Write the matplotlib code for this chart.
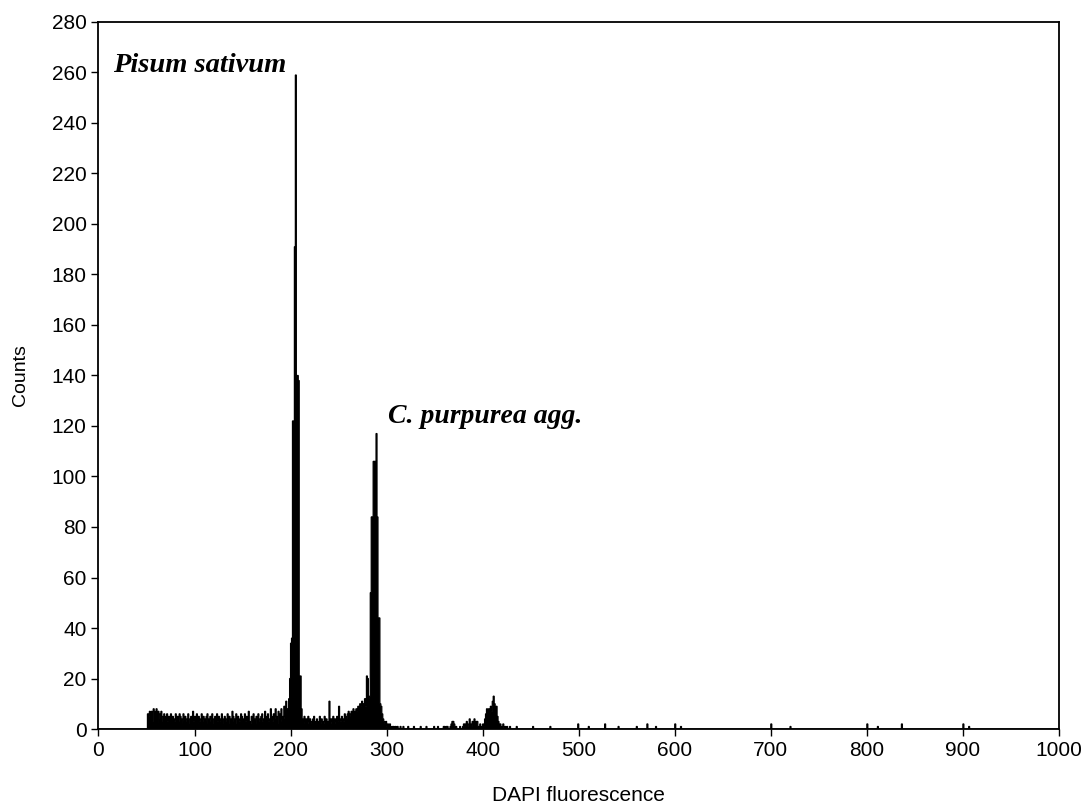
import numpy as np
import matplotlib
matplotlib.use("Agg")
import matplotlib.pyplot as plt

plt.rcParams['font.family'] = ['Liberation Sans', 'DejaVu Sans']

# channel counts, one value per channel starting at channel 51
first_channel = 51
counts_main = [
    6, 5, 7, 6, 7, 3, 8, 7, 5, 8,
    2, 7, 6, 4, 7, 5, 3, 6, 4, 5,
    6, 3, 5, 4, 6, 2, 5, 4, 3, 6,
    4, 5, 3, 6, 5, 2, 4, 6, 3, 5,
    4, 3, 6, 4, 2, 5, 4, 7, 3, 5,
    4, 6, 2, 5, 3, 4, 6, 3, 5, 4,
    3, 5, 6, 2, 4, 5, 3, 6, 4, 2,
    5, 4, 6, 3, 5, 4, 3, 6, 2, 4,
    5, 3, 4, 6, 2, 5, 4, 3, 7, 5,
    3, 4, 6, 2, 5, 4, 3, 6, 5, 2,
    4, 6, 3, 5, 4, 7, 3, 2, 5, 4,
    6, 3, 4, 5, 2, 6, 4, 3, 5, 6,
    3, 4, 7, 2, 5, 6, 3, 4, 8, 5,
    3, 6, 4, 8, 5, 2, 7, 6, 4, 8,
    3, 5, 9, 4, 11, 6, 8, 12, 20, 34,      # 191-200
    36, 122, 122, 191, 259, 140, 140, 138, 21, 21,  # 201-210
    8, 4, 3, 5, 2, 4, 3, 5, 2, 4,
    3, 2, 4, 5, 2, 3, 4, 2, 3, 5,
    2, 4, 3, 2, 5, 3, 4, 2, 3, 11,
    3, 4, 2, 5, 3, 4, 2, 5, 3, 9,
    4, 3, 5, 4, 3, 6, 5, 4, 6, 7,
    5, 6, 7, 6, 8, 6, 7, 8, 7, 9,
    8, 10, 9, 11, 8, 10, 12, 9, 21, 20,   # 271-280
    12, 13, 54, 84, 84, 106, 106, 106, 117, 84,  # 281-290
    44, 44, 10, 9, 6, 4, 3, 2, 3, 1,
    2, 1, 2, 1, 0, 1, 1, 0, 1, 0,
    1, 0, 0, 1, 0, 0, 1, 0, 0, 0,
    0, 1, 0, 0, 0, 0, 0, 1, 0, 0,
    0, 0, 0, 0, 1, 0, 0, 0, 0, 0,
    1, 0, 0, 0, 0, 0, 0, 0, 1, 0,
    0, 0, 1, 0, 0, 0, 0, 0, 1, 1,
    0, 1, 1, 0, 0, 1, 2, 3, 3, 2,
    1, 1, 0, 0, 0, 1, 0, 0, 1, 2,
    2, 1, 3, 1, 2, 4, 2, 1, 3, 2,
    4, 1, 3, 3, 1, 1, 2, 1, 1, 2,
    1, 4, 6, 8, 7, 8, 6, 9, 7, 11,     # 401-410
    13, 10, 8, 9, 5, 3, 1, 2, 1, 1,
    2, 0, 1, 0, 1, 0, 0, 1, 0, 0,
]

# isolated single events further up the scale
sparse_channels = [435, 452, 470, 499, 510, 527, 541, 560, 571, 580,
                   600, 606, 700, 720, 800, 811, 836, 900, 906]
sparse_counts = [1, 1, 1, 2, 1, 2, 1, 1, 2, 1,
                 2, 1, 2, 1, 2, 1, 2, 2, 1]

counts = np.zeros(1000)
counts[first_channel:first_channel + len(counts_main)] = counts_main
counts[sparse_channels] = sparse_counts
edges = np.arange(1001)

fig = plt.figure(figsize=(10.88, 8.05), dpi=100)
ax = fig.add_axes([0.0905, 0.0944, 0.8828, 0.8783])

ax.stairs(counts, edges, fill=True, facecolor='black', edgecolor='black',
          linewidth=0.9)

ax.set_xlim(0, 1000)
ax.set_ylim(0, 280)
ax.set_xticks(np.arange(0, 1001, 100))
ax.set_yticks(np.arange(0, 281, 20))
ax.tick_params(direction='out', length=5, width=1, labelsize=15)
for side in ax.spines.values():
    side.set_linewidth(1.3)

ax.set_xlabel('DAPI fluorescence', fontsize=15, labelpad=19)
ax.set_ylabel('Counts', fontsize=14, labelpad=16)

serif = ['Liberation Serif', 'DejaVu Serif']
ax.text(15, 260, 'Pisum sativum', fontsize=20.5, fontweight='bold',
        fontstyle='italic', family=serif)
ax.text(301, 121, 'C. purpurea agg.', fontsize=20, fontweight='bold',
        fontstyle='italic', family=serif)

fig.savefig('out.png', dpi=100)
